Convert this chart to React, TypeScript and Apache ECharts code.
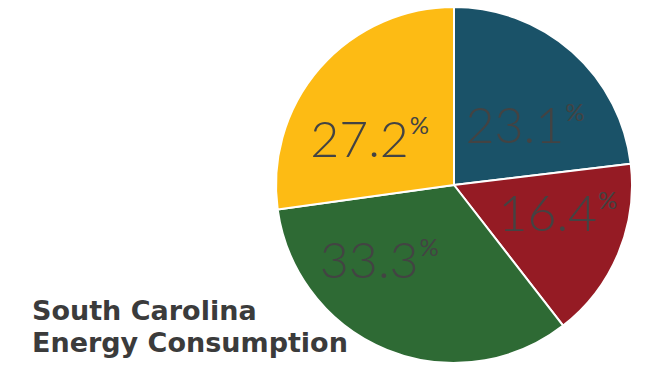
import React, { useEffect, useRef } from "react";
import * as echarts from "echarts";

const categories = ["Blue", "Red", "Green", "Yellow"];
const values = [23.1, 16.4, 33.3, 27.2];
const colors = ["#1a5268", "#951b24", "#2e6a34", "#fdbb14"];
const titleLines = ["South Carolina", "Energy Consumption"];
const labelNudge = [
  [10, 8],
  [19, -8],
  [-40, -11],
  [-15, 13],
];

export default function App() {
  const ref = useRef<HTMLDivElement>(null);
  useEffect(() => {
    if (!ref.current) return;
    const chart = echarts.init(ref.current, undefined, { renderer: "svg" });
    chart.setOption({
      animation: false,
      backgroundColor: "#ffffff",
      title: {
        text: titleLines.join("\n"),
        left: 32,
        top: 294,
        padding: 0,
        textStyle: {
          fontFamily: "DejaVu Sans",
          fontWeight: "bold",
          fontSize: 27,
          lineHeight: 32,
          color: "#3b3b3b",
        },
      },
      series: [
        {
          type: "pie",
          center: [454, 185],
          radius: [0, 178],
          startAngle: 90,
          clockwise: true,
          itemStyle: { borderColor: "#ffffff", borderWidth: 2 },
          label: {
            show: true,
            position: "inside",
            formatter: (p: any) => `{v|${Number(p.value).toFixed(1)}}{p|%}`,
            rich: {
              v: {
                fontFamily: "Lato",
                fontWeight: 300,
                fontSize: 50,
                lineHeight: 50,
                color: "#434343",
              },
              p: {
                fontFamily: "Lato",
                fontWeight: "normal",
                fontSize: 24,
                lineHeight: 50,
                verticalAlign: "top",
                padding: [0, 0, 0, 1],
                color: "#434343",
              },
            },
          },
          labelLine: { show: false },
          labelLayout: (params: any) => {
            const n = labelNudge[params.dataIndex] || [0, 0];
            return { dx: n[0], dy: n[1] };
          },
          emphasis: { disabled: true },
          data: categories.map((c, i) => ({
            name: c,
            value: values[i],
            itemStyle: { color: colors[i] },
          })),
        },
      ],
    });
    return () => chart.dispose();
  }, []);
  return (
    <div
      ref={ref}
      style={{ position: "fixed", left: 0, top: 0, width: 648, height: 365 }}
    />
  );
}
